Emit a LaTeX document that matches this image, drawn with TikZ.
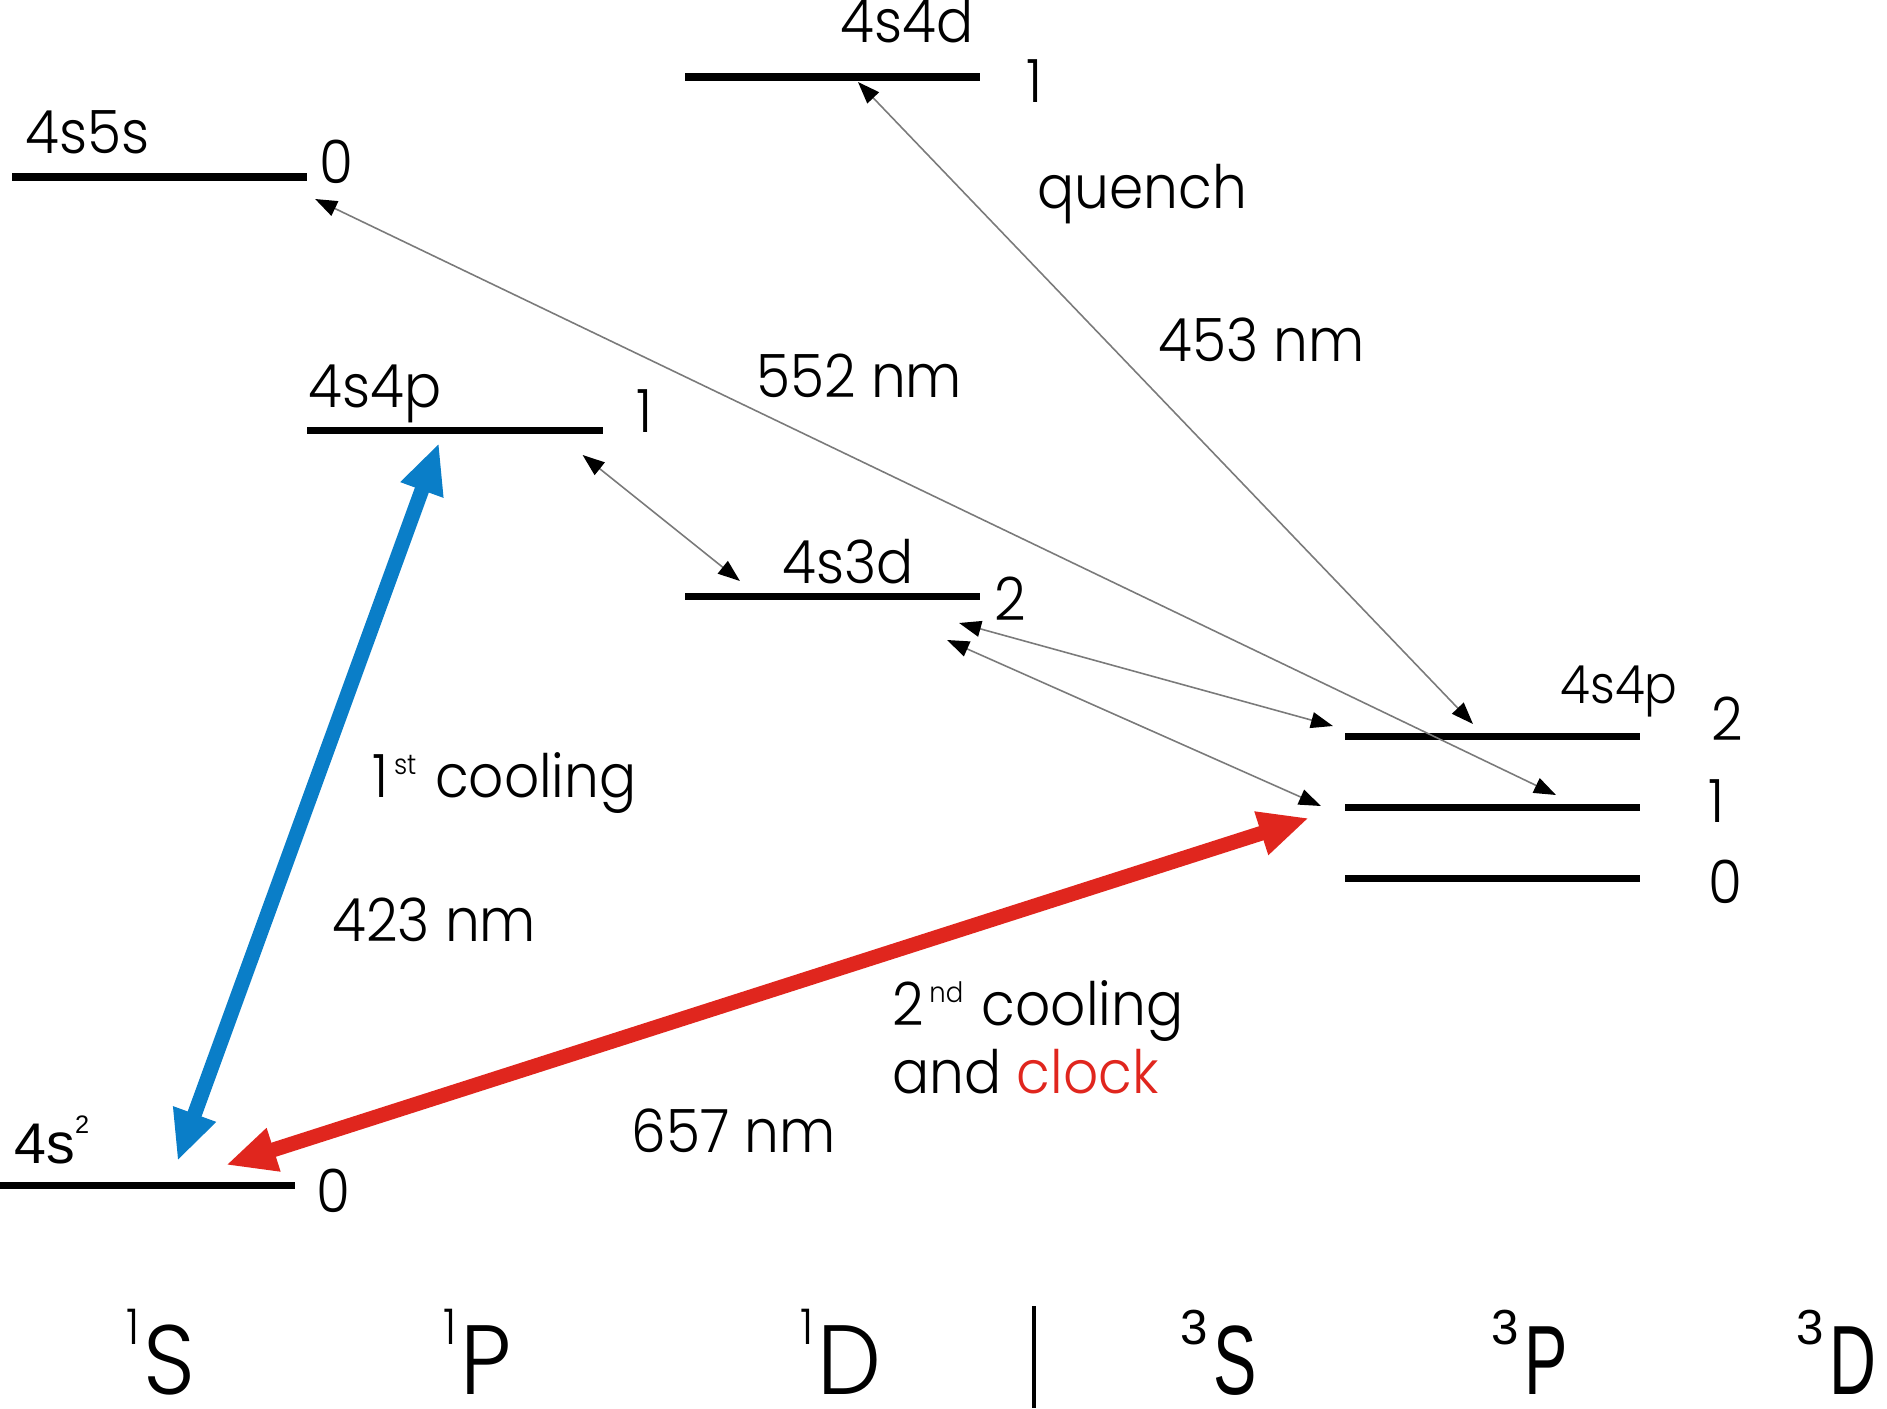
\documentclass[tikz,border=0pt]{standalone}
\usepackage{fontspec}
\setmainfont{Poppins}[UprightFont=* Light, FakeStretch=0.92]
\newfontfamily\arialfont{Liberation Sans}
\newfontfamily\narrowfont{Liberation Sans}[FakeStretch=0.66]
\usetikzlibrary{arrows.meta, positioning, calc}
\definecolor{cablue}{HTML}{0A7EC8}
\definecolor{cared}{HTML}{E0261E}
\definecolor{cagray}{HTML}{7A7A7A}
\newcommand{\smallsup}[1]{\hspace{1.5pt}\raisebox{6.5pt}{\fontsize{8}{8}\selectfont #1}\hspace{1pt}}
\newcommand{\termsym}[2]{\raisebox{14pt}{\fontsize{14}{14}\selectfont #1}\hspace{1pt}#2}
\newcommand{\tripsym}[1]{{\arialfont\raisebox{14pt}{\fontsize{14}{14}\selectfont 3}}\hspace{1.5pt}{\narrowfont #1}}

\begin{document}
\begin{tikzpicture}[
    x=0.01cm, y=-0.01cm,
    level/.style={
        rectangle,
        fill=black,
        minimum width=2.95cm,
        minimum height=0.07cm,
        inner sep=0pt,
        outer sep=0pt
    },
    txt/.style={
        font=\fontsize{17}{20}\selectfont,
        inner sep=0pt,
        anchor=base west
    },
    term/.style={
        font=\fontsize{28}{30}\selectfont,
        inner sep=0pt,
        anchor=base west
    },
    transition/.style={
        <->,
        >={Triangle[length=0.22cm, width=0.16cm, color=black]},
        draw=cagray,
        line width=0.45pt
    },
    laser/.style={
        <->,
        >={Triangle[length=0.5cm, width=0.42cm]},
        line width=4.2pt,
        draw=#1
    }
]
\useasboundingbox (0,0) rectangle (1887,1409);

% Levels
\node[level] (gnd) at (147.5,1185) {};
\node[level] (s5s) at (159.5,177) {};
\node[level] (p1) at (455,430) {};
\node[level] (s4d) at (832.5,77) {};
\node[level] (d3) at (832.5,596) {};
\node[level] (tp2) at (1492.5,736) {};
\node[level] (tp1) at (1492.5,807) {};
\node[level] (tp0) at (1492.5,878) {};

% Configurations
\node[txt, font=\fontsize{16.3}{18}\arialfont] (cgnd) at (14,1163) {4s\raisebox{8.5pt}{\fontsize{7.2}{8}\selectfont 2}};
\node[txt] (cs5s) at (25,153) {4s5s};
\node[txt] (cp1) at (308,407) {4s4p};
\node[txt] (cs4d) at (840,42) {4s4d};
\node[txt] (cd3) at (782,583) {4s3d};
\node[txt, font=\fontsize{15}{18}\selectfont] (ctp) at (1560,703) {4s4p};

% J values
\node[txt] (jgnd) at (316,1212) {0};
\node[txt] (js5s) at (319,183) {0};
\node[txt] (jp1) at (636,432) {1};
\node[txt] (js4d) at (1026,102) {1};
\node[txt] (jd3) at (994,620) {2};
\node[txt] (jtp2) at (1711,740) {2};
\node[txt] (jtp1) at (1708,822) {1};
\node[txt] (jtp0) at (1708,903) {0};

% Transitions
\draw[laser=cablue] ($(gnd.center)+(30,-24)$) -- ($(p1.center)+(-16,13)$);
\draw[laser=cared] ($(gnd.center)+(78.5,-20)$) -- ($(tp1.west)+(-36,11)$);
\draw[transition] ($(s5s.east)+(8,22)$) -- ($(tp1.center)+(63.5,-12)$);
\draw[transition] ($(s4d.center)+(25.5,5)$) -- ($(tp2.center)+(-19.5,-12)$);
\draw[transition] ($(p1.east)+(-20,25)$) -- ($(d3.west)+(55,-15)$);
\draw[transition] ($(d3.east)+(-21,27)$) -- ($(tp2.west)+(-12,-10)$);
\draw[transition] ($(d3.east)+(-33,44)$) -- ($(tp1.west)+(-24,-1)$);

% Labels
\node[txt] (lquench) at (1037,208) {quench};
\node[txt] (l453) at (1158,361) {453 nm};
\node[txt] (l552) at (756,397) {552 nm};
\node[txt] (lcool1) at (372,797) {1\smallsup{st} cooling};
\node[txt] (l423) at (332,941) {423 nm};
\node[txt] (lcool2) at (892,1025) {2\smallsup{nd} cooling};
\node[txt] (lclock) at (892,1093) {and \textcolor{cared}{clock}};
\node[txt] (l657) at (631,1152) {657 nm};

% Terms
\node[term] (t1S) at (126,1394) {\termsym{1}{S}};
\node[term] (t1P) at (443,1394) {\termsym{1}{P}};
\node[term] (t1D) at (800,1394) {\termsym{1}{D}};
\node[term] (t3S) at (1180,1394) {\tripsym{S}};
\node[term] (t3P) at (1491,1394) {\tripsym{P}};
\node[term] (t3D) at (1796,1394) {\tripsym{D}};
\coordinate (septop) at (1034,1306);
\coordinate (sepbot) at (1034,1408);
\draw[line width=1.3pt] (septop) -- (sepbot);

\end{tikzpicture}
\end{document}
